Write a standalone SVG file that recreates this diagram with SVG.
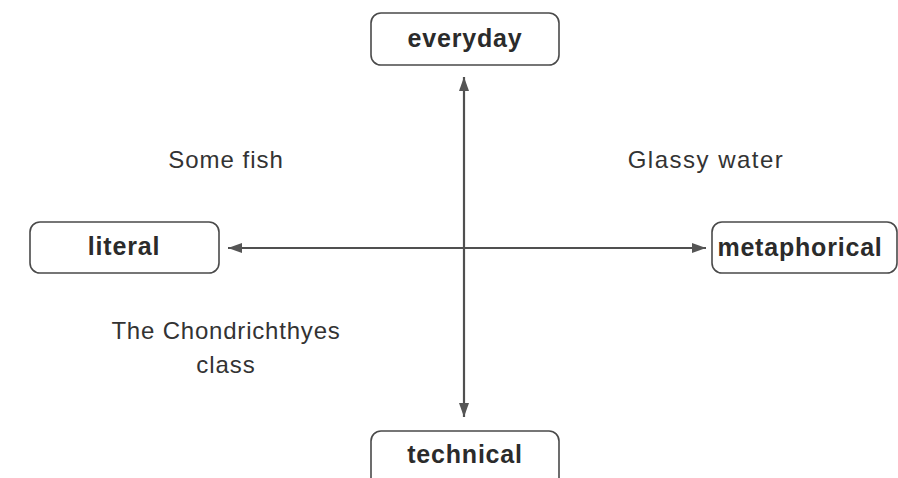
<svg xmlns="http://www.w3.org/2000/svg" width="898" height="478" viewBox="0 0 898 478">
  <style>
    .box { fill: #ffffff; stroke: #4a4a4a; stroke-width: 1.6; }
    .node-label { font-family: "Liberation Sans", Arial, sans-serif; font-weight: bold; font-size: 25px; fill: #2b2b2b; text-anchor: middle; letter-spacing: 0.8px; }
    .note { font-family: "Liberation Sans", Arial, sans-serif; font-size: 24px; fill: #333333; text-anchor: middle; letter-spacing: 1px; }
    .axis { stroke: #505050; stroke-width: 2.2; fill: none; }
  </style>
  <defs>
    <marker id="head" viewBox="0 0 14 10" refX="14" refY="5" markerWidth="14" markerHeight="10" markerUnits="userSpaceOnUse" orient="auto-start-reverse">
      <path d="M0,0 L14,5 L0,10 Z" fill="#555555"/>
    </marker>
  </defs>
  <rect width="898" height="478" fill="#ffffff"/>

  <g id="connectors">
    <line class="axis" x1="464" y1="77" x2="464" y2="417" marker-start="url(#head)" marker-end="url(#head)"/>
    <line class="axis" x1="228" y1="248" x2="706" y2="248" marker-start="url(#head)" marker-end="url(#head)"/>
  </g>

  <g id="everyday">
    <rect class="box" x="371" y="13" width="188" height="52" rx="10"/>
    <text class="node-label" x="465" y="47">everyday</text>
  </g>

  <g id="literal">
    <rect class="box" x="30" y="222" width="189" height="51" rx="10"/>
    <text class="node-label" x="124" y="255">literal</text>
  </g>

  <g id="metaphorical">
    <rect class="box" x="712" y="222" width="185" height="51" rx="10"/>
    <text class="node-label" x="800" y="256">metaphorical</text>
  </g>

  <g id="technical">
    <rect class="box" x="371" y="431" width="188" height="60" rx="10"/>
    <text class="node-label" x="465" y="463">technical</text>
  </g>

  <g id="examples">
    <text class="note" x="226" y="168">Some fish</text>
    <text class="note" x="706" y="168" style="letter-spacing:1.5px">Glassy water</text>
    <text class="note" x="226" y="339" style="letter-spacing:0.8px">The Chondrichthyes</text>
    <text class="note" x="226" y="373">class</text>
  </g>
</svg>
